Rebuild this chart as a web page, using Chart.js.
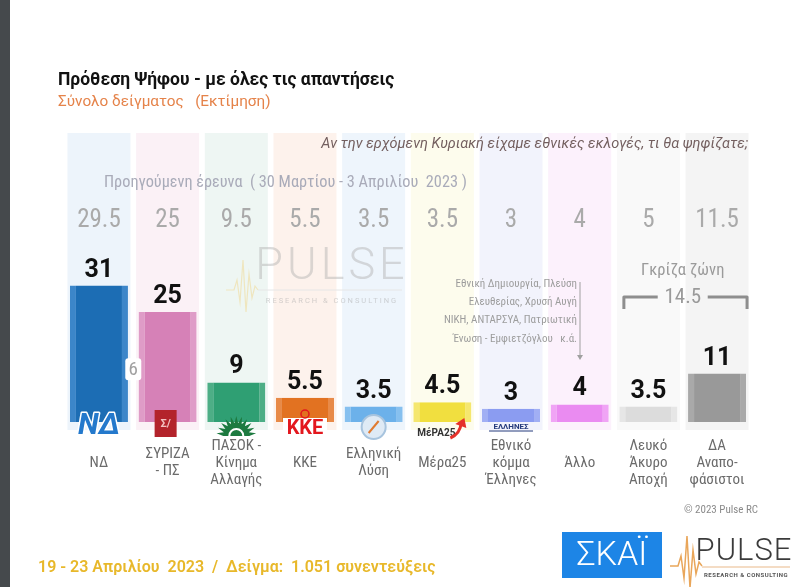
<!DOCTYPE html>
<html>
<head>
<meta charset="utf-8">
<script src="https://cdn.jsdelivr.net/npm/chart.js@4.4.1/dist/chart.umd.min.js"></script>
<style>
  html, body { margin: 0; padding: 0; background: #fff; }
  #wrap { position: relative; width: 800px; height: 587px; }
</style>
</head>
<body>
<div id="wrap"><canvas id="chart" width="800" height="587"></canvas></div>
<script>
let parties = [['ΝΔ'], ['ΣΥΡΙΖΑ', '- ΠΣ'], ['ΠΑΣΟΚ -', 'Κίνημα', 'Αλλαγής'], ['ΚΚΕ'], ['Ελληνική', 'Λύση'],
  ['Μέρα25'], ['Εθνικό', 'κόμμα', 'Έλληνες'], ['Άλλο'], ['Λευκό', 'Άκυρο', 'Αποχή'], ['ΔΑ', 'Αναπο-', 'φάσιστοι']];
let current = [31, 25, 9, 5.5, 3.5, 4.5, 3, 4, 3.5, 11];
let previous = [29.5, 25, 9.5, 5.5, 3.5, 3.5, 3, 4, 5, 11.5];
let leadGap = 6;
let greyZone = 14.5;
let otherParties = ['Εθνική Δημιουργία, Πλεύση', 'Ελευθερίας, Χρυσή Αυγή', 'ΝΙΚΗ, ΑΝΤΑΡΣΥΑ, Πατριωτική', 'Ένωση - Εμφιετζόγλου   κ.ά.'];

let barColors = ['#1c6db4', '#d681b7', '#2f9f73', '#e27221', '#6cb1ea', '#f1df3f', '#8b9cf1', '#ea8bf1', '#dcdcdc', '#999999'];
let edgeColors = ['#3c86c9', '#df9cc7', '#4dae86', '#e88a48', '#86c0ef', '#f5e76e', '#a1aff4', '#f0a4f5', '#e6e6e6', '#a9a9a9'];
let bandColors = ['#edf4fb', '#fbf1f6', '#eef6f3', '#fdf2ec', '#eef5fc', '#fdfced', '#f2f3fc', '#fcf1fc', '#f9f9f9', '#f4f4f4'];

const NARROW = "'Roboto Condensed', 'Liberation Sans Narrow', 'DejaVu Sans Condensed', Roboto, sans-serif";
const SANS = "Roboto, 'Noto Sans', sans-serif";

function txt(ctx, s, x, y, font, color, align, baseline) {
  ctx.font = font;
  ctx.fillStyle = color;
  ctx.textAlign = align || 'left';
  ctx.textBaseline = baseline || 'middle';
  ctx.fillText(s, x, y);
}

function heartbeat(ctx, x, y, color, w) {
  ctx.save();
  ctx.strokeStyle = color;
  ctx.lineWidth = w;
  ctx.beginPath();
  let pts = [[0, 0], [8, 0], [11, -10], [14, 12], [17, -30], [20, 22], [23, -16], [26, 8], [29, -4], [32, 0]];
  pts.forEach((p, i) => i ? ctx.lineTo(x + p[0], y + p[1]) : ctx.moveTo(x + p[0], y + p[1]));
  ctx.stroke();
  ctx.restore();
}

const decor = {
  id: 'decor',
  beforeDraw(chart) {
    let ctx = chart.ctx;
    ctx.save();
    ctx.fillStyle = '#ffffff';
    ctx.fillRect(0, 0, 800, 587);
    ctx.fillStyle = '#45494c';
    ctx.fillRect(0, 0, 10, 587);

    txt(ctx, 'Πρόθεση Ψήφου - με όλες τις απαντήσεις', 58, 81, 'bold 17.5px ' + SANS, '#111111');
    txt(ctx, 'Σύνολο δείγματος   (Εκτίμηση)', 58, 102, '15.3px ' + SANS, '#e5834a');

    txt(ctx, '19 - 23 Απριλίου  2023  /  Δείγμα:  1.051 συνεντεύξεις', 38, 568, '600 16px ' + SANS, '#e8b82a');
    txt(ctx, '© 2023 Pulse RC', 758, 510, '11px ' + NARROW, '#8a8a8a', 'right');

    ctx.fillStyle = '#1d85e6';
    ctx.fillRect(562, 532, 100, 46);
    txt(ctx, 'ΣΚΑΪ', 612, 556, '300 34px ' + SANS, '#ffffff', 'center');

    heartbeat(ctx, 670, 566, '#e9a65a', 1.5);
    ctx.strokeStyle = '#e9b98a';
    ctx.lineWidth = 1;
    ctx.beginPath();
    ctx.moveTo(702, 567);
    ctx.lineTo(790, 567);
    ctx.stroke();
    ctx.letterSpacing = '1px';
    txt(ctx, 'PULSE', 744, 552, '300 31px ' + SANS, '#3b3b3b', 'center');
    ctx.letterSpacing = '0.5px';
    txt(ctx, 'RESEARCH & CONSULTING', 746, 575, 'bold 6px ' + SANS, '#555555', 'center');
    ctx.letterSpacing = '0px';
    ctx.restore();
  },
  beforeDatasetsDraw(chart) {
    let ctx = chart.ctx;
    let x = chart.scales.x;
    ctx.save();
    bandColors.forEach((c, i) => {
      let cx = x.getPixelForValue(i);
      ctx.fillStyle = c;
      ctx.fillRect(cx - 31.5, 133, 63, 297);
    });

    txt(ctx, 'Αν την ερχόμενη Κυριακή είχαμε εθνικές εκλογές, τι θα ψηφίζατε;', 748, 144, 'italic 14.5px ' + SANS, '#735f5f', 'right');
    txt(ctx, 'Προηγούμενη έρευνα  ( 30 Μαρτίου - 3 Απριλίου  2023 )', 104, 183, '16.3px ' + NARROW, '#a9abb9');
    previous.forEach((v, i) => {
      txt(ctx, String(v), x.getPixelForValue(i), 227, '25px ' + NARROW, '#aaaaaa', 'center', 'alphabetic');
    });

    heartbeat(ctx, 226, 290, '#efe6bf', 1.2);
    ctx.strokeStyle = '#e6e6e6';
    ctx.lineWidth = 1;
    ctx.beginPath();
    ctx.moveTo(258, 290);
    ctx.lineTo(402, 290);
    ctx.stroke();
    ctx.letterSpacing = '4px';
    txt(ctx, 'PULSE', 332, 268, '300 45px ' + SANS, 'rgba(175,175,175,0.45)', 'center');
    ctx.letterSpacing = '2px';
    txt(ctx, 'RESEARCH & CONSULTING', 332, 301, '7.5px ' + SANS, 'rgba(170,170,170,0.5)', 'center');
    ctx.letterSpacing = '0px';
    ctx.restore();
  },
  afterDatasetsDraw(chart) {
    let ctx = chart.ctx;
    let x = chart.scales.x;
    let meta = chart.getDatasetMeta(0);
    ctx.save();
    meta.data.forEach((bar, i) => {
      txt(ctx, String(current[i]), bar.x, bar.y - 9, 'bold 25px ' + SANS, '#111111', 'center', 'alphabetic');
    });

    let gx = (meta.data[0].x + meta.data[1].x) / 2;
    let gy = chart.scales.y.getPixelForValue(12);
    ctx.fillStyle = '#ffffff';
    ctx.beginPath();
    ctx.roundRect(gx - 8, gy - 11, 16, 22, 3);
    ctx.fill();
    txt(ctx, String(leadGap), gx, gy + 1, '19px ' + NARROW, '#a0a0a0', 'center');

    let c = i => x.getPixelForValue(i);
    // logos
    ctx.lineJoin = 'round';
    ctx.strokeStyle = '#ffffff';
    ctx.lineWidth = 3;
    ctx.font = 'italic bold 30px ' + SANS;
    ctx.textAlign = 'center';
    ctx.textBaseline = 'middle';
    ctx.strokeText('ΝΔ', c(0), 426);
    ctx.fillStyle = '#2479cc';
    ctx.fillText('ΝΔ', c(0), 426);

    ctx.fillStyle = '#b3232b';
    ctx.fillRect(c(1) - 13, 410, 22, 27);
    txt(ctx, 'Σ/', c(1) - 2, 424, 'bold 11px ' + SANS, '#f3c0c0', 'center');

    let px = c(2), py = 436;
    ctx.fillStyle = '#1d7a40';
    ctx.beginPath();
    for (let k = 0; k <= 22; k++) {
      let a = Math.PI + k * Math.PI / 22;
      let r = k % 2 ? 20 : 13;
      ctx.lineTo(px + r * Math.cos(a), py + r * Math.sin(a));
    }
    ctx.closePath();
    ctx.fill();
    ctx.strokeStyle = '#ffffff';
    ctx.lineWidth = 2;
    ctx.beginPath();
    ctx.arc(px, py, 7, Math.PI, 2 * Math.PI);
    ctx.stroke();

    ctx.fillStyle = '#ffffff';
    ctx.fillRect(c(3) - 22, 418, 44, 21);
    txt(ctx, 'ΚΚΕ', c(3), 429, 'bold 20px ' + SANS, '#e3171e', 'center');
    ctx.strokeStyle = '#e3171e';
    ctx.lineWidth = 1.5;
    ctx.beginPath();
    ctx.arc(c(3), 414, 4, 0, 2 * Math.PI);
    ctx.stroke();

    ctx.fillStyle = '#dfeaf5';
    ctx.strokeStyle = '#a8c4de';
    ctx.lineWidth = 2;
    ctx.beginPath();
    ctx.arc(c(4), 427, 12, 0, 2 * Math.PI);
    ctx.fill();
    ctx.stroke();
    ctx.strokeStyle = '#e07a30';
    ctx.beginPath();
    ctx.moveTo(c(4) - 5, 433);
    ctx.lineTo(c(4) + 5, 421);
    ctx.stroke();

    txt(ctx, 'ΜέΡΑ25', c(5) - 6, 433, 'bold 10px ' + SANS, '#333333', 'center');
    ctx.strokeStyle = '#e5312a';
    ctx.lineWidth = 3;
    ctx.beginPath();
    ctx.moveTo(c(5) + 8, 438);
    ctx.quadraticCurveTo(c(5) + 18, 434, c(5) + 19, 422);
    ctx.stroke();
    ctx.fillStyle = '#e5312a';
    ctx.beginPath();
    ctx.moveTo(c(5) + 13, 424);
    ctx.lineTo(c(5) + 22, 418);
    ctx.lineTo(c(5) + 24, 428);
    ctx.fill();

    txt(ctx, 'ΕΛΛΗΝΕΣ', c(6), 427, 'bold 8px ' + SANS, '#243a7c', 'center');
    ctx.strokeStyle = '#243a7c';
    ctx.lineWidth = 1;
    ctx.beginPath();
    ctx.moveTo(c(6) - 22, 431);
    ctx.lineTo(c(6) + 22, 431);
    ctx.stroke();

    // other parties note
    otherParties.forEach((s, k) => {
      txt(ctx, s, 577, 284 + k * 18.3, '11px ' + NARROW, '#9d9d9d', 'right');
    });
    ctx.strokeStyle = '#a0a0a0';
    ctx.lineWidth = 1;
    ctx.beginPath();
    ctx.moveTo(580, 282);
    ctx.lineTo(580, 357);
    ctx.stroke();
    ctx.fillStyle = '#a0a0a0';
    ctx.beginPath();
    ctx.moveTo(577, 355);
    ctx.lineTo(583, 355);
    ctx.lineTo(580, 360);
    ctx.fill();

    // grey zone
    txt(ctx, 'Γκρίζα ζώνη', (c(8) + c(9)) / 2, 271, '16.5px ' + NARROW, '#9a9a9a', 'center');
    let zx0 = c(8) - 24.5, zx1 = c(9) + 30, zm = (c(8) + c(9)) / 2;
    ctx.strokeStyle = '#8e8e8e';
    ctx.lineWidth = 3;
    ctx.beginPath();
    ctx.moveTo(zx0, 309);
    ctx.lineTo(zx0, 297);
    ctx.lineTo(zm - 25, 297);
    ctx.moveTo(zm + 25, 297);
    ctx.lineTo(zx1, 297);
    ctx.lineTo(zx1, 309);
    ctx.stroke();
    txt(ctx, String(greyZone), zm, 298, '21px ' + NARROW, '#9a9a9a', 'center');
    ctx.restore();
  }
};

let ctx_chart = document.getElementById('chart');

let chart = new Chart(ctx_chart, {
  type: 'bar',
  data: {
    labels: parties,
    datasets: [{
      data: current,
      backgroundColor: barColors,
      borderColor: edgeColors,
      borderWidth: {left: 6, right: 6, top: 0, bottom: 0},
      borderSkipped: false,
      barPercentage: 0.845,
      categoryPercentage: 1
    }]
  },
  options: {
    responsive: false,
    animation: false,
    layout: {padding: {left: 64.6, right: 48.6, top: 136, bottom: 85}},
    plugins: {legend: {display: false}, tooltip: {enabled: false}},
    scales: {
      x: {
        grid: {display: false, drawTicks: false},
        border: {display: false},
        ticks: {
          padding: 24,
          crossAlign: 'center',
          color: '#6b6b6b',
          autoSkip: false,
          maxRotation: 0,
          font: {family: NARROW, size: 15, lineHeight: 1.13}
        },
        afterFit: scale => { scale.height = 80; }
      },
      y: {display: false, min: 0, max: 65}
    }
  },
  plugins: [decor]
});
</script>
</body>
</html>
